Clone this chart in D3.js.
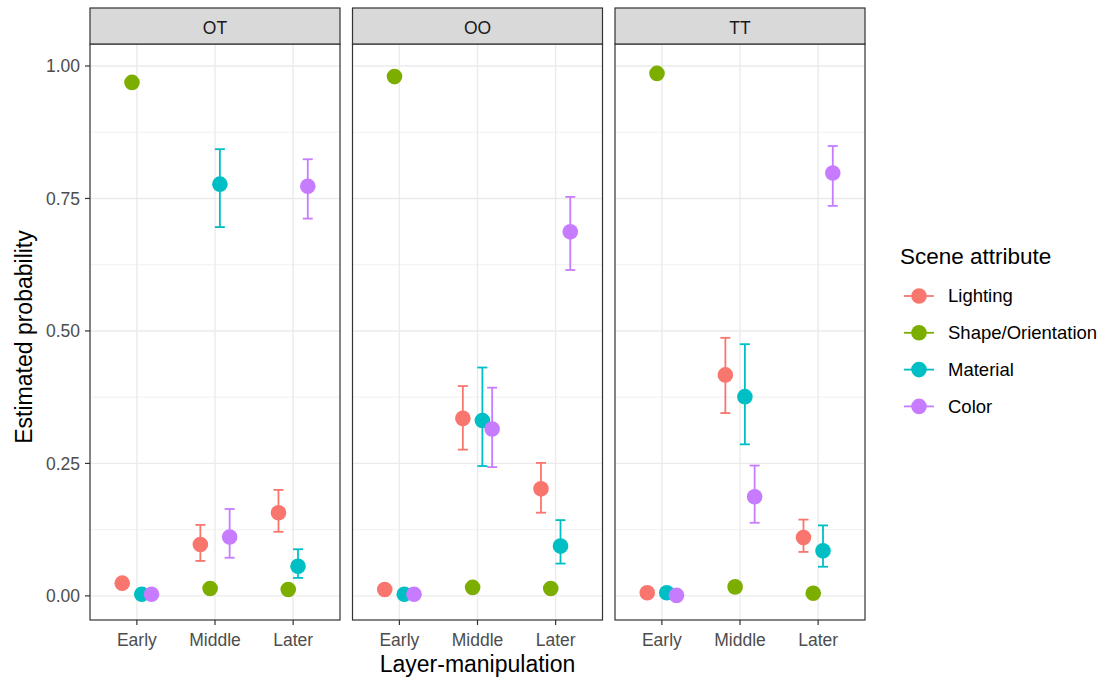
<!DOCTYPE html>
<html><head><meta charset="utf-8">
<script src="https://cdn.jsdelivr.net/npm/d3@7"></script>
<style>body{margin:0;background:#fff;}text{font-family:"Liberation Sans",Arial,Helvetica,sans-serif;}</style>
</head><body><svg id="c" width="1104" height="679"></svg>
<script>
const panels = ["OT","OO","TT"];
const stages = ["Early","Middle","Later"];
const attributes = ["Lighting","Shape/Orientation","Material","Color"];
const colors = ["#F8766D","#7CAE00","#00BFC4","#C77CFF"];
const yTicks = [0,0.25,0.5,0.75,1.0];
const yTickLabels = ["0.00","0.25","0.50","0.75","1.00"];
// estimates [attribute][stage] per panel
const estOT = [[0.024,0.097,0.157],[0.969,0.014,0.012],[0.003,0.777,0.056],[0.003,0.111,0.773]];
const loOT  = [[0.018,0.066,0.121],[0.960,0.010,0.008],[0.001,0.696,0.034],[0.001,0.072,0.712]];
const hiOT  = [[0.031,0.134,0.200],[0.976,0.019,0.016],[0.006,0.843,0.088],[0.006,0.164,0.824]];
const estOO = [[0.012,0.335,0.202],[0.980,0.016,0.014],[0.003,0.331,0.094],[0.003,0.315,0.687]];
const loOO  = [[0.008,0.276,0.157],[0.972,0.011,0.010],[0.001,0.245,0.061],[0.001,0.243,0.615]];
const hiOO  = [[0.017,0.396,0.251],[0.986,0.021,0.019],[0.006,0.431,0.143],[0.006,0.393,0.753]];
const estTT = [[0.006,0.417,0.110],[0.986,0.017,0.005],[0.006,0.376,0.085],[0.001,0.187,0.798]];
const loTT  = [[0.003,0.345,0.083],[0.980,0.012,0.003],[0.003,0.286,0.055],[0.000,0.138,0.736]];
const hiTT  = [[0.010,0.487,0.144],[0.991,0.023,0.008],[0.010,0.475,0.133],[0.003,0.246,0.849]];
const est = [estOT,estOO,estTT], lo=[loOT,loOO,loTT], hi=[hiOT,hiOO,hiTT];

const svg = d3.select("#c");
const panelW = 250, gap = 12.5, left0 = 90, pTop = 44, pBottom = 620, stripTop = 8;
const y = d3.scaleLinear().domain([-0.0455,1.0415]).range([pBottom, pTop]);
const dodge = d3.scaleBand().domain(attributes).range([-0.25,0.25]);
const R = 7.8;

panels.forEach((p,pi)=>{
  const x0 = left0 + pi*(panelW+gap);
  const xs = d3.scaleLinear().domain([0.4,3.6]).range([x0, x0+panelW]);
  const g = svg.append("g");
  g.append("rect").attr("x",x0).attr("y",pTop).attr("width",panelW).attr("height",pBottom-pTop).attr("fill","#fff");
  [0.125,0.375,0.625,0.875].forEach(v=>g.append("line").attr("x1",x0).attr("x2",x0+panelW).attr("y1",y(v)).attr("y2",y(v)).attr("stroke","#EBEBEB").attr("stroke-width",0.7));
  yTicks.forEach(v=>g.append("line").attr("x1",x0).attr("x2",x0+panelW).attr("y1",y(v)).attr("y2",y(v)).attr("stroke","#EBEBEB").attr("stroke-width",1.4));
  stages.forEach((s,si)=>g.append("line").attr("x1",xs(si+1)).attr("x2",xs(si+1)).attr("y1",pTop).attr("y2",pBottom).attr("stroke","#EBEBEB").attr("stroke-width",1.4));
  attributes.forEach((a,ai)=>{
    stages.forEach((s,si)=>{
      const cx = xs(si+1+dodge(a)+dodge.bandwidth()/2);
      const c = colors[ai];
      const y1 = y(hi[pi][ai][si]), y2 = y(lo[pi][ai][si]);
      g.append("line").attr("x1",cx).attr("x2",cx).attr("y1",y1).attr("y2",y2).attr("stroke",c).attr("stroke-width",1.8);
      [y1,y2].forEach(yy=>g.append("line").attr("x1",cx-5).attr("x2",cx+5).attr("y1",yy).attr("y2",yy).attr("stroke",c).attr("stroke-width",1.8));
    });
  });
  attributes.forEach((a,ai)=>{
    stages.forEach((s,si)=>{
      const cx = xs(si+1+dodge(a)+dodge.bandwidth()/2);
      g.append("circle").attr("cx",cx).attr("cy",y(est[pi][ai][si])).attr("r",R).attr("fill",colors[ai]);
    });
  });
  g.append("rect").attr("x",x0).attr("y",pTop).attr("width",panelW).attr("height",pBottom-pTop).attr("fill","none").attr("stroke","#333333").attr("stroke-width",1.2);
  g.append("rect").attr("x",x0).attr("y",stripTop).attr("width",panelW).attr("height",pTop-stripTop).attr("fill","#D9D9D9").attr("stroke","#333333").attr("stroke-width",1.2);
  g.append("text").attr("x",x0+panelW/2).attr("y",33.5).attr("text-anchor","middle").attr("font-size",17.5).attr("fill","#1A1A1A").text(p);
  stages.forEach((s,si)=>{
    g.append("line").attr("x1",xs(si+1)).attr("x2",xs(si+1)).attr("y1",pBottom).attr("y2",pBottom+5).attr("stroke","#333333").attr("stroke-width",1.2);
    g.append("text").attr("x",xs(si+1)).attr("y",646).attr("text-anchor","middle").attr("font-size",17.5).attr("fill","#4D4D4D").text(s);
  });
  if(pi===0){
    yTicks.forEach((v,i)=>{
      g.append("line").attr("x1",x0-5).attr("x2",x0).attr("y1",y(v)).attr("y2",y(v)).attr("stroke","#333333").attr("stroke-width",1.2);
      g.append("text").attr("x",x0-10).attr("y",y(v)+6.3).attr("text-anchor","end").attr("font-size",17.5).attr("fill","#4D4D4D").text(yTickLabels[i]);
    });
  }
});
const xMid = left0 + (3*panelW+2*gap)/2;
svg.append("text").attr("x",xMid).attr("y",672).attr("text-anchor","middle").attr("font-size",23).attr("fill","#000").text("Layer-manipulation");
svg.append("text").attr("transform",`translate(32,${(pTop+pBottom)/2+5}) rotate(-90)`).attr("text-anchor","middle").attr("font-size",23).attr("fill","#000").text("Estimated probability");
const lg = svg.append("g");
lg.append("text").attr("x",900).attr("y",264).attr("font-size",22.5).attr("fill","#000").text("Scene attribute");
attributes.forEach((a,i)=>{
  const yy = 296 + i*36.8;
  lg.append("line").attr("x1",904).attr("x2",934).attr("y1",yy).attr("y2",yy).attr("stroke",colors[i]).attr("stroke-width",1.8);
  lg.append("circle").attr("cx",919).attr("cy",yy).attr("r",R).attr("fill",colors[i]);
  lg.append("text").attr("x",948).attr("y",yy+6.4).attr("font-size",18.5).attr("fill","#000").text(a);
});
</script></body></html>
